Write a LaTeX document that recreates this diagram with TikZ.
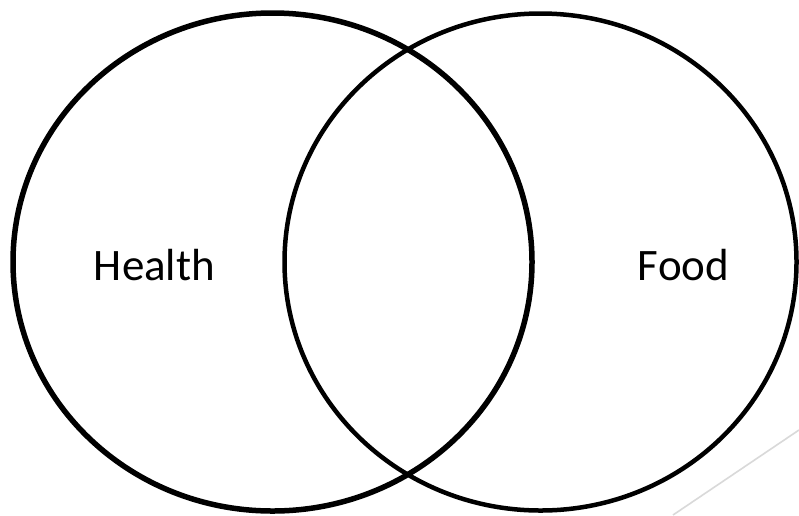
\documentclass[tikz,border=0pt]{standalone}
\usepackage{fontspec}
\setmainfont{Carlito}
\usetikzlibrary{shapes.geometric}
\definecolor{stroke}{RGB}{0,0,0}
\definecolor{faintgray}{RGB}{217,217,217}

\begin{document}
\begin{tikzpicture}[
    x=1pt, y=1pt,
    set/.style={ellipse, draw=stroke, inner sep=0pt, outer sep=0pt},
    setlabel/.style={font=\fontsize{45}{54}\selectfont, inner sep=0pt, anchor=base},
    edge/.style={draw=faintgray, line width=1.6pt}
]
% Canvas
\fill[white] (0,0) rectangle (799,-515);
\useasboundingbox (0,0) rectangle (799,-515);

% Sets
\node[set, line width=5.5pt, minimum width=519pt, minimum height=498pt] (health) at (272.5,-262) {};
\node[set, line width=4.5pt, minimum width=512pt, minimum height=497pt] (food) at (540.5,-262) {};

% Labels
\node[setlabel] (healthlbl) at (154.5,-280) {Health};
\node[setlabel] (foodlbl) at (683.5,-280) {Food};

% Corner line
\coordinate (edgeA) at (673,-515);
\coordinate (edgeB) at (799,-430);
\draw[edge] (edgeA) -- (edgeB);
\end{tikzpicture}
\end{document}
